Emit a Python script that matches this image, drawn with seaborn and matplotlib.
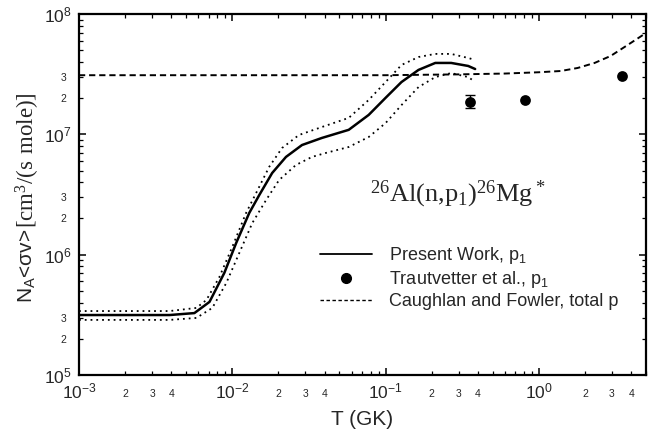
import numpy as np
import pandas as pd
import matplotlib
matplotlib.use("Agg")
import matplotlib.pyplot as plt
from matplotlib.ticker import LogLocator, FuncFormatter, LogFormatterSciNotation
from matplotlib.lines import Line2D
import seaborn as sns

# ---------------- data ----------------
T_pw = [0.001, 0.0039, 0.00566, 0.0071, 0.00887, 0.0106, 0.0129, 0.0150, 0.0182,
        0.0224, 0.0285, 0.0384, 0.0575, 0.0776, 0.100, 0.127, 0.164, 0.211, 0.268,
        0.346, 0.384]
rate_pw = [3.15e5, 3.15e5, 3.27e5, 4.05e5, 7.05e5, 1.25e6, 2.22e6, 3.13e6, 4.77e6,
           6.49e6, 8.15e6, 9.33e6, 1.09e7, 1.45e7, 2.01e7, 2.72e7, 3.43e7, 3.92e7,
           3.92e7, 3.70e7, 3.49e7]

T_hi = [0.001, 0.0039, 0.00583, 0.00678, 0.00824, 0.0100, 0.0123, 0.0143, 0.0174,
        0.0211, 0.0272, 0.0384, 0.0575, 0.0776, 0.100, 0.127, 0.164, 0.211, 0.268,
        0.346, 0.384]
rate_hi = [3.40e5, 3.40e5, 3.61e5, 4.20e5, 6.52e5, 1.16e6, 2.22e6, 3.25e6, 5.36e6,
           7.69e6, 9.87e6, 1.15e7, 1.37e7, 1.93e7, 2.72e7, 3.77e7, 4.39e7, 4.66e7,
           4.66e7, 4.31e7, 4.15e7]

T_lo = [0.001, 0.0039, 0.00583, 0.00741, 0.00914, 0.0111, 0.0135, 0.0166, 0.0202,
        0.0260, 0.0331, 0.0407, 0.0575, 0.0776, 0.100, 0.127, 0.164, 0.211, 0.268,
        0.346, 0.37]
rate_lo = [2.87e5, 2.87e5, 2.98e5, 3.61e5, 5.82e5, 1.03e6, 1.83e6, 2.84e6, 4.17e6,
           5.56e6, 6.49e6, 7.0e6, 7.85e6, 9.5e6, 1.24e7, 1.75e7, 2.47e7, 2.99e7,
           3.23e7, 2.99e7, 2.82e7]

T_cf = [0.001, 0.1, 0.3, 0.6, 1.0, 1.39, 1.79, 2.31, 2.94, 3.79, 5.0]
rate_cf = [3.1e7, 3.1e7, 3.15e7, 3.2e7, 3.28e7, 3.36e7, 3.56e7, 3.92e7, 4.48e7,
           5.52e7, 6.95e7]

T_tr = [0.356, 0.81, 3.51]
rate_tr = [1.86e7, 1.93e7, 3.06e7]
err_lo_tr = [0.20e7, 0.0, 0.0]
err_hi_tr = [0.26e7, 0.0, 0.0]

labels = ["Present Work, $\\mathregular{p_1}$",
          "Trautvetter et al., $\\mathregular{p_1}$",
          "Caughlan and Fowler, total p"]

# ---------------- style ----------------
sns.set_theme(style="white", rc={"axes.axisbelow": False})
plt.rcParams["font.family"] = ["Liberation Sans", "DejaVu Sans"]

fig = plt.figure(figsize=(6.6, 4.47), dpi=100)
W, H = 660, 447
ax = fig.add_axes([79 / W, (H - 375) / H, (646 - 79) / W, (375 - 14) / H])
ax.set_xscale("log")
ax.set_yscale("log")

dot = (0, (1, 2.2))
dash = (0, (3.2, 2.0))

df_pw = pd.DataFrame({"T": T_pw, "rate": rate_pw})
df_hi = pd.DataFrame({"T": T_hi, "rate": rate_hi})
df_lo = pd.DataFrame({"T": T_lo, "rate": rate_lo})
df_cf = pd.DataFrame({"T": T_cf, "rate": rate_cf})
df_tr = pd.DataFrame({"T": T_tr, "rate": rate_tr})

sns.lineplot(data=df_cf, x="T", y="rate", ax=ax, color="black", lw=1.4,
             linestyle=dash, estimator=None, sort=False)
sns.lineplot(data=df_hi, x="T", y="rate", ax=ax, color="black", lw=1.3,
             linestyle=dot, estimator=None, sort=False)
sns.lineplot(data=df_lo, x="T", y="rate", ax=ax, color="black", lw=1.3,
             linestyle=dot, estimator=None, sort=False)
sns.lineplot(data=df_pw, x="T", y="rate", ax=ax, color="black", lw=1.8,
             estimator=None, sort=False)
ax.errorbar(T_tr[:1], rate_tr[:1], yerr=[err_lo_tr[:1], err_hi_tr[:1]],
            fmt="none", ecolor="black", elinewidth=1.0, capsize=3.5, capthick=1.0)
sns.scatterplot(data=df_tr, x="T", y="rate", ax=ax, color="black", s=60,
                edgecolor="black", linewidth=0, zorder=5)

ax.set_xlim(1e-3, 5)
ax.set_ylim(1e5, 1e8)

# ticks
for axis, subs_lab in ((ax.xaxis, (2, 3, 4)), (ax.yaxis, (2, 3))):
    axis.set_major_locator(LogLocator(base=10, numticks=20))
    axis.set_minor_locator(LogLocator(base=10, subs=np.arange(2, 10), numticks=100))
    axis.set_major_formatter(LogFormatterSciNotation())

    def fmt(v, pos, subs_lab=subs_lab):
        m = v / 10 ** np.floor(np.log10(v) + 1e-9)
        m = int(round(m))
        return str(m) if m in subs_lab else ""
    axis.set_minor_formatter(FuncFormatter(fmt))

ax.tick_params(which="both", top=True, right=True, bottom=True, left=True,
               direction="in", color="black")
ax.tick_params(which="major", length=5, width=1.1, labelsize=12.5)
ax.tick_params(which="minor", length=3, width=0.9, labelsize=7.5)
ax.tick_params(axis="x", which="major", pad=5)
ax.tick_params(axis="x", which="minor", pad=10)
ax.tick_params(axis="y", which="major", pad=5)
ax.tick_params(axis="y", which="minor", pad=9)
for s in ax.spines.values():
    s.set_linewidth(1.6)
    s.set_color("black")

ax.set_xlabel("T (GK)", fontsize=15, labelpad=6)
ax.set_ylabel("")

# y label: two parts, sans + serif
fig.text(27 / W, (H - 303) / H, "$\\mathregular{N_A}$<σv>", rotation=90,
         ha="center", va="bottom", fontsize=15)
fig.text(28 / W, (H - 228) / H, "$\\mathregular{[cm^3/(s\\ mole)]}$", rotation=90,
         ha="center", va="bottom", fontsize=16.5,
         family=["Liberation Serif", "DejaVu Serif"])

# reaction label
ax.text(0.668, 0.50, "$\\mathregular{^{26}Al(n{,}p_1)^{26}Mg^*}$", transform=ax.transAxes,
        ha="center", va="center", fontsize=19,
        family=["Liberation Serif", "DejaVu Serif"])

# legend
handles = [Line2D([], [], color="black", lw=1.3),
           Line2D([], [], color="black", marker="o", ls="none", markersize=7),
           Line2D([], [], color="black", lw=1.0, ls=(0, (2.5, 1.8)))]
ax.legend(handles, labels, loc="upper left",
          bbox_to_anchor=((320 - 79) / 567, (375 - 245) / 361),
          frameon=False, fontsize=13, handlelength=2.9, handletextpad=0.9,
          labelspacing=0.18, borderpad=0, borderaxespad=0)

fig.savefig("out.png", dpi=100)
